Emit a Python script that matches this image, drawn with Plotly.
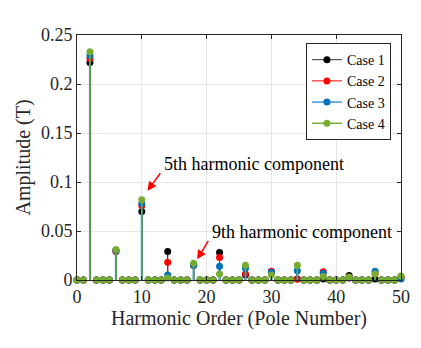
import plotly.graph_objects as go

# Harmonic order (pole number)
orders = list(range(51))

case1 = [0, 0, 0.222, 0, 0, 0, 0.030, 0, 0, 0,
         0.070, 0, 0, 0, 0.029, 0, 0, 0, 0.015, 0,
         0, 0, 0.028, 0, 0, 0, 0.005, 0, 0, 0,
         0.008, 0, 0, 0, 0.001, 0, 0, 0, 0.001, 0,
         0, 0, 0.0045, 0, 0, 0, 0.001, 0, 0, 0,
         0.003]
case2 = [0, 0, 0.226, 0, 0, 0, 0.029, 0, 0, 0,
         0.076, 0, 0, 0, 0.018, 0, 0, 0, 0.015, 0,
         0, 0, 0.023, 0, 0, 0, 0.006, 0, 0, 0,
         0.009, 0, 0, 0, 0.001, 0, 0, 0, 0.0085, 0,
         0, 0, 0.002, 0, 0, 0, 0.006, 0, 0, 0,
         0.003]
case3 = [0, 0, 0.229, 0, 0, 0, 0.030, 0, 0, 0,
         0.078, 0, 0, 0, 0.005, 0, 0, 0, 0.015, 0,
         0, 0, 0.014, 0, 0, 0, 0.012, 0, 0, 0,
         0.008, 0, 0, 0, 0.0095, 0, 0, 0, 0.007, 0,
         0, 0, 0.002, 0, 0, 0, 0.009, 0, 0, 0,
         0.001]
case4 = [0, 0, 0.233, 0, 0, 0, 0.031, 0, 0, 0,
         0.082, 0, 0, 0, 0.002, 0, 0, 0, 0.017, 0,
         0, 0, 0.006, 0, 0, 0, 0.015, 0, 0, 0,
         0.005, 0, 0, 0, 0.015, 0, 0, 0, 0.0035, 0,
         0, 0, 0.003, 0, 0, 0, 0.006, 0, 0, 0,
         0.004]

names = ["Case 1", "Case 2", "Case 3", "Case 4"]
series = [case1, case2, case3, case4]
marker_colors = ["#000000", "#FF0000", "#0072BD", "#77AC30"]
line_colors = ["#333333", "#FF0000", "#6AAEE0", "#77AC30"]
line_widths = [1, 1, 2, 1.5]

FONT = "Liberation Serif"

fig = go.Figure()

for name, vals, mc, lc, lw in zip(names, series, marker_colors, line_colors, line_widths):
    sx, sy = [], []
    for x, v in zip(orders, vals):
        sx += [x, x, None]
        sy += [0, v, None]
    fig.add_trace(go.Scatter(x=sx, y=sy, mode="lines",
                             line=dict(color=mc, width=lw),
                             showlegend=False, hoverinfo="skip", cliponaxis=False))
    fig.add_trace(go.Scatter(x=orders, y=vals, mode="markers",
                             marker=dict(color=mc, size=7, line=dict(width=0)),
                             showlegend=False, cliponaxis=False))
    fig.add_trace(go.Scatter(x=[None], y=[None], mode="lines+markers", name=name,
                             line=dict(color=lc, width=lw),
                             marker=dict(color=mc, size=7)))

fig.add_annotation(x=10.87, y=0.0911, ax=13.03, ay=0.1105, xref="x", yref="y",
                   axref="x", ayref="y", text="", showarrow=True,
                   arrowcolor="#FF0000", arrowwidth=1.5, arrowhead=2, arrowsize=1.2)
fig.add_annotation(x=18.55, y=0.0211, ax=20.4, ay=0.0415, xref="x", yref="y",
                   axref="x", ayref="y", text="", showarrow=True,
                   arrowcolor="#FF0000", arrowwidth=1.5, arrowhead=2, arrowsize=1.2)
fig.add_annotation(x=13.08, y=0.1184, xref="x", yref="y", text="5th harmonic component",
                   showarrow=False, xanchor="left", yanchor="middle",
                   font=dict(family=FONT, size=18, color="#000000"))
fig.add_annotation(x=20.5, y=0.0493, xref="x", yref="y", text="9th harmonic component",
                   showarrow=False, xanchor="left", yanchor="middle",
                   font=dict(family=FONT, size=18, color="#000000"))

axis_common = dict(showline=True, linecolor="#262626", linewidth=1, mirror="ticks",
                   ticks="inside", ticklen=4, tickcolor="#262626",
                   showgrid=True, gridcolor="#E6E6E6", gridwidth=1, zeroline=False,
                   tickfont=dict(family=FONT, size=18, color="#262626"))

fig.update_xaxes(range=[0, 50], tickvals=[0, 10, 20, 30, 40, 50],
                 title=dict(text="Harmonic Order (Pole Number)",
                            font=dict(family=FONT, size=20, color="#262626"), standoff=4),
                 **axis_common)
fig.update_yaxes(range=[0, 0.25], tickvals=[0, 0.05, 0.1, 0.15, 0.2, 0.25],
                 ticktext=["0", "0.05", "0.1", "0.15", "0.2", "0.25"],
                 title=dict(text="Amplitude (T)",
                            font=dict(family=FONT, size=20, color="#262626"), standoff=4),
                 **axis_common)

fig.update_layout(width=421, height=348, margin=dict(l=77, r=20, t=35, b=68),
                  plot_bgcolor="white", paper_bgcolor="white",
                  legend=dict(x=0.969, y=0.967, xanchor="right", yanchor="top",
                              bgcolor="white", bordercolor="#262626", borderwidth=1,
                              font=dict(family=FONT, size=14, color="#000000"),
                              tracegroupgap=0, itemwidth=30),
                  showlegend=True)

fig.write_html("out.html")
